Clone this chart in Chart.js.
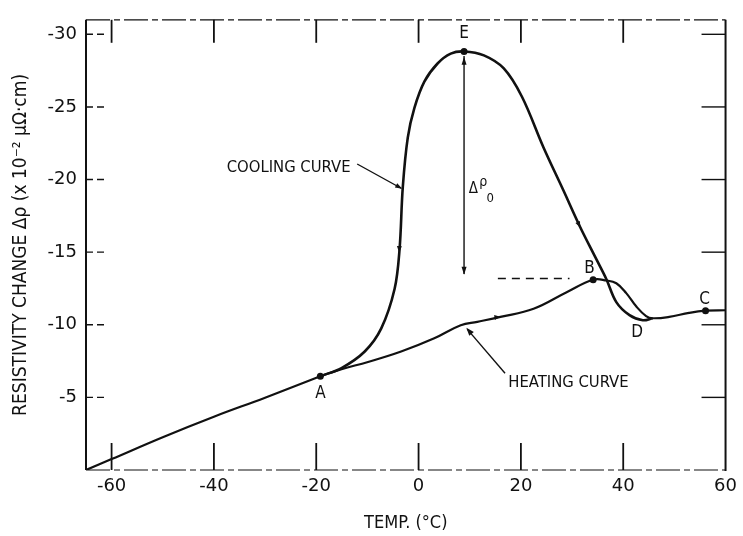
<!DOCTYPE html>
<html><head><meta charset="utf-8">
<script src="https://cdn.jsdelivr.net/npm/chart.js@4.4.1/dist/chart.umd.min.js"></script>
<style>html,body{margin:0;padding:0;background:#fff;}#wrap{width:743px;height:536px;}</style>
</head><body><div id="wrap"><canvas id="c" width="743" height="536"></canvas></div>
<script>
// ---- data (temperature °C, resistivity change ×10^-2 µΩ·cm) ----
const xTicks = [-60, -40, -20, 0, 20, 40, 60];
const yTicks = [-30, -25, -20, -15, -10, -5];

const commonX = [-65, -60, -50, -40, -30, -19.2];
const commonY = [0, -0.75, -2.26, -3.67, -4.98, -6.46];

const coolingX = [-19.2, -15.06, -10.52, -7.29, -4.69, -3.72, -3.08, -2.11, -0.81, 1.13, 3.71, 6.29, 8.89, 12.77, 16.66, 20.21, 24.42, 28.3, 31.53, 34.77, 36.71, 38.65, 41.23, 43.83, 45.77];
const coolingY = [-6.46, -7.02, -8.16, -9.75, -12.46, -15.18, -19.49, -22.89, -24.93, -26.74, -27.99, -28.67, -28.82, -28.55, -27.65, -25.7, -22.21, -19.26, -16.77, -14.5, -13.14, -11.56, -10.66, -10.31, -10.45];

const heatingX = [-19.2, -15.06, -9.88, -3.41, 3.07, 8.24, 11.48, 16.0, 22.48, 28.94, 34.12, 36.7, 38.65, 40.59, 42.53, 44.47, 45.77, 48.99, 52.87, 56.09, 60];
const heatingY = [-6.46, -6.94, -7.44, -8.16, -9.07, -9.97, -10.2, -10.54, -11.1, -12.24, -13.1, -13.05, -12.86, -12.18, -11.27, -10.6, -10.45, -10.54, -10.82, -10.97, -11.0];

const pointNames = ['A', 'E', 'B', 'C'];
const pointX = [-19.2, 8.89, 34.12, 56.09];
const pointY = [-6.46, -28.82, -13.1, -10.97];

const xTitle = 'TEMP. (°C)';
const yTitle = 'RESISTIVITY CHANGE Δρ (x 10⁻² μΩ·cm)';

const toXY = (xs, ys) => xs.map((v, i) => ({x: v, y: ys[i]}));

const FONT = "'Liberation Sans Narrow', 'DejaVu Sans Condensed', 'Liberation Sans', sans-serif";

const annot = {
  id: 'annot',
  afterDatasetsDraw(chart) {
    const {ctx, chartArea: ca, scales: {x, y}} = chart;
    const X = v => x.getPixelForValue(v), Y = v => y.getPixelForValue(v);
    const line = (x1, y1, x2, y2) => { ctx.beginPath(); ctx.moveTo(x1, y1); ctx.lineTo(x2, y2); ctx.stroke(); };
    const head = (x1, y1, x2, y2, len, w) => {
      const a = Math.atan2(y2 - y1, x2 - x1);
      ctx.beginPath();
      ctx.moveTo(x2, y2);
      ctx.lineTo(x2 - len * Math.cos(a) + w * Math.sin(a), y2 - len * Math.sin(a) - w * Math.cos(a));
      ctx.lineTo(x2 - len * Math.cos(a) - w * Math.sin(a), y2 - len * Math.sin(a) + w * Math.cos(a));
      ctx.closePath(); ctx.fill();
    };
    ctx.save();
    ctx.strokeStyle = '#111'; ctx.fillStyle = '#111'; ctx.lineCap = 'butt';
    // frame
    ctx.lineWidth = 2;
    line(ca.left, ca.top, ca.left, ca.bottom);
    line(ca.right, ca.top, ca.right, ca.bottom + 1);
    ctx.lineWidth = 1.2; ctx.setLineDash([24, 4, 6, 4]);
    line(ca.left, ca.top, ca.right, ca.top);
    line(ca.left, ca.bottom, ca.right, ca.bottom);
    ctx.setLineDash([]);
    // inward ticks
    ctx.lineWidth = 1.8;
    x.ticks.forEach(t => {
      const px = X(t.value);
      if (px > ca.right - 3) return;
      line(px, ca.bottom, px, ca.bottom - 27);
      line(px, ca.top, px, ca.top + 23);
    });
    ctx.lineWidth = 1.4;
    y.ticks.forEach(t => {
      const py = Y(t.value);
      ctx.setLineDash([7, 4]);
      line(ca.left, py, ca.left + 21, py);
      ctx.setLineDash([]);
      line(ca.right - 24, py, ca.right, py);
    });
    // delta rho arrow and dashed reference line
    ctx.lineWidth = 1.4;
    line(X(8.89), Y(-28.5), X(8.89), Y(-13.5));
    head(X(8.89), Y(-20), X(8.89), Y(-28.45), 8, 2.5);
    head(X(8.89), Y(-20), X(8.89), Y(-13.45), 8, 2.5);
    ctx.setLineDash([8, 6]);
    line(X(15.5), Y(-13.19), X(29.5), Y(-13.19));
    ctx.setLineDash([]);
    // leaders
    ctx.lineWidth = 1.4;
    line(X(-12.0), Y(-21.07), X(-3.4), Y(-19.4));
    head(X(-12.0), Y(-21.07), X(-3.2), Y(-19.37), 7, 2.5);
    line(X(16.9), Y(-6.66), X(9.5), Y(-9.7));
    head(X(16.9), Y(-6.66), X(9.34), Y(-9.79), 8, 3);
    // small direction arrowheads on the curves
    head(X(-3.6), Y(-16.5), X(-3.8), Y(-15.0), 6, 2.5);
    head(X(30.4), Y(-17.6), X(31.6), Y(-16.7), 6, 2.5);
    head(X(14.0), Y(-10.45), X(16.0), Y(-10.56), 6, 2.5);
    // texts
    ctx.textAlign = 'center'; ctx.textBaseline = 'middle';
    ctx.font = "16.5px " + FONT;
    ctx.fillText('COOLING CURVE', X(-25.4), Y(-20.8));
    ctx.fillText('HEATING CURVE', X(29.3), Y(-5.98));
    ctx.font = "17px " + FONT;
    ctx.fillText('E', X(8.89), Y(-30.05));
    ctx.fillText('A', X(-19.19), Y(-5.23));
    ctx.fillText('B', X(33.41), Y(-13.87));
    ctx.fillText('C', X(55.92), Y(-11.76));
    ctx.fillText('D', X(42.72), Y(-9.45));
    ctx.font = "15px " + FONT;
    ctx.fillText('Δ', X(10.7), Y(-19.37));
    ctx.font = "14px " + FONT;
    ctx.fillText('ρ', X(12.64), Y(-19.8));
    ctx.font = "13px " + FONT;
    ctx.fillText('0', X(14.0), Y(-18.7));
    ctx.restore();
  }
};

new Chart(document.getElementById('c'), {
  type: 'scatter',
  data: {
    datasets: [
      {label: 'common', data: toXY(commonX, commonY), showLine: true, borderColor: '#111', borderWidth: 2.2, pointRadius: 0, tension: 0.4},
      {label: 'cooling curve', data: toXY(coolingX, coolingY), showLine: true, borderColor: '#111', borderWidth: 2.6, pointRadius: 0, tension: 0.35},
      {label: 'heating curve', data: toXY(heatingX, heatingY), showLine: true, borderColor: '#111', borderWidth: 2.2, pointRadius: 0, tension: 0.4},
      {label: 'points', data: toXY(pointX, pointY), showLine: false, pointRadius: 3.5, pointBackgroundColor: '#111', pointBorderWidth: 0}
    ]
  },
  options: {
    responsive: false, animation: false, devicePixelRatio: 1,
    layout: {padding: {top: 14, right: 13, left: 0, bottom: 0}},
    plugins: {legend: {display: false}, tooltip: {enabled: false}},
    scales: {
      x: {
        type: 'linear', min: -65, max: 60, position: 'bottom',
        afterBuildTicks: s => { s.ticks = xTicks.map(v => ({value: v})); },
        afterFit: s => { s.height = 66; },
        grid: {display: false, drawTicks: false}, border: {display: false},
        ticks: {color: '#111', padding: 6, font: {family: "'DejaVu Sans', sans-serif", size: 18}, maxRotation: 0},
        title: {display: true, text: xTitle, color: '#111', font: {family: FONT, size: 18}, padding: {top: 0, bottom: 2}}
      },
      y: {
        type: 'linear', min: -31, max: 0, reverse: true,
        afterBuildTicks: s => { s.ticks = yTicks.map(v => ({value: v})); },
        afterFit: s => { s.width = 86; },
        grid: {display: false, drawTicks: false}, border: {display: false},
        ticks: {color: '#111', padding: 9, font: {family: "'DejaVu Sans', sans-serif", size: 18}},
        title: {display: true, text: yTitle, color: '#111', font: {family: FONT, size: 19}, padding: {top: 10, bottom: 0}}
      }
    }
  },
  plugins: [annot]
});
</script></body></html>
